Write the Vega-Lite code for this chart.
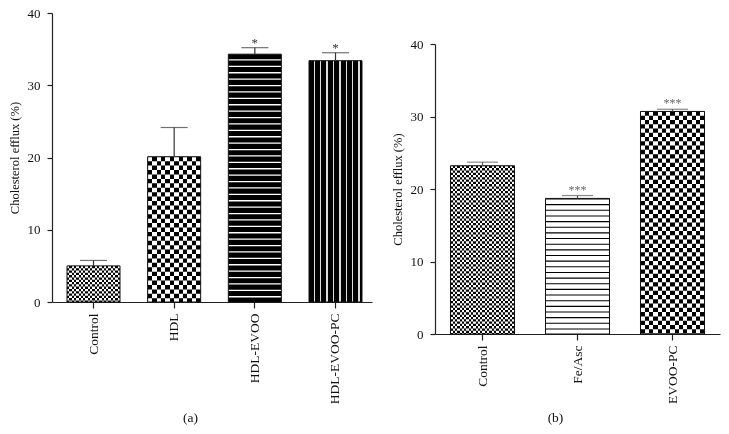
{
  "$schema": "https://vega.github.io/schema/vega-lite/v6.json",
  "background": "white",
  "padding": {"left": 8, "top": 7, "right": 5, "bottom": 5},
  "spacing": 19,
  "config": {
    "view": {"stroke": null},
    "font": "Liberation Serif",
    "axis": {"labelFont": "Liberation Serif", "titleFont": "Liberation Serif", "titleFontWeight": "normal", "domainColor": "#222", "tickColor": "#222", "labelColor": "#111", "titleColor": "#111", "grid": false, "domainWidth": 1.2, "tickWidth": 1.2}
  },
  "hconcat": [
    {
      "width": 320,
      "height": 289,
      "data": {"values": [
        {"cat": "Control", "value": 5.0, "errTop": 5.75, "sig": ""},
        {"cat": "HDL", "value": 20.1, "errTop": 24.15, "sig": ""},
        {"cat": "HDL-EVOO", "value": 34.3, "errTop": 35.2, "sig": "*"},
        {"cat": "HDL-EVOO-PC", "value": 33.4, "errTop": 34.5, "sig": "*"}
      ]},
      "encoding": {
        "x": {"field": "cat", "type": "nominal", "sort": null,
          "scale": {"paddingInner": 0.343, "paddingOuter": 0.155, "align": 0.6},
          "axis": {"title": "(a)", "titleX": 138, "titlePadding": 7, "titleFontSize": 13.5, "labelAngle": -90, "labelFontSize": 13.5, "tickSize": 6, "labelPadding": 5}},
        "y": {"field": "value", "type": "quantitative", "title": "Cholesterol efflux (%)",
          "scale": {"domain": [0, 40], "nice": false},
          "axis": {"title": "Cholesterol efflux (%)", "values": [0, 10, 20, 30, 40], "tickSize": 5, "labelPadding": 7, "labelFontSize": 13, "titleFontSize": 12.5, "titlePadding": 6}}
      },
      "layer": [
        {"mark": {"type": "bar", "fill": "#ffffff", "strokeWidth": 0}},
        {"transform": [{"filter": "datum.cat === 'Control'"}],
          "mark": {"type": "rule", "color": "#000", "strokeWidth": 53, "strokeDash": [2.3, 2.3]},
          "encoding": {"y2": {"datum": 0}}},
        {"transform": [{"filter": "datum.cat === 'Control'"}],
          "mark": {"type": "bar", "blend": "difference", "strokeWidth": 0, "fill": {"gradient": "linear", "x1": 0, "y1": 0, "x2": 1, "y2": 0, "stops": [
            {"offset": 0, "color": "#fff"}, {"offset": 0.0435, "color": "#fff"}, {"offset": 0.0435, "color": "rgba(255,255,255,0)"}, {"offset": 0.087, "color": "rgba(255,255,255,0)"},
            {"offset": 0.087, "color": "#fff"}, {"offset": 0.1304, "color": "#fff"}, {"offset": 0.1304, "color": "rgba(255,255,255,0)"}, {"offset": 0.1739, "color": "rgba(255,255,255,0)"},
            {"offset": 0.1739, "color": "#fff"}, {"offset": 0.2174, "color": "#fff"}, {"offset": 0.2174, "color": "rgba(255,255,255,0)"}, {"offset": 0.2609, "color": "rgba(255,255,255,0)"},
            {"offset": 0.2609, "color": "#fff"}, {"offset": 0.3043, "color": "#fff"}, {"offset": 0.3043, "color": "rgba(255,255,255,0)"}, {"offset": 0.3478, "color": "rgba(255,255,255,0)"},
            {"offset": 0.3478, "color": "#fff"}, {"offset": 0.3913, "color": "#fff"}, {"offset": 0.3913, "color": "rgba(255,255,255,0)"}, {"offset": 0.4348, "color": "rgba(255,255,255,0)"},
            {"offset": 0.4348, "color": "#fff"}, {"offset": 0.4783, "color": "#fff"}, {"offset": 0.4783, "color": "rgba(255,255,255,0)"}, {"offset": 0.5217, "color": "rgba(255,255,255,0)"},
            {"offset": 0.5217, "color": "#fff"}, {"offset": 0.5652, "color": "#fff"}, {"offset": 0.5652, "color": "rgba(255,255,255,0)"}, {"offset": 0.6087, "color": "rgba(255,255,255,0)"},
            {"offset": 0.6087, "color": "#fff"}, {"offset": 0.6522, "color": "#fff"}, {"offset": 0.6522, "color": "rgba(255,255,255,0)"}, {"offset": 0.6957, "color": "rgba(255,255,255,0)"},
            {"offset": 0.6957, "color": "#fff"}, {"offset": 0.7391, "color": "#fff"}, {"offset": 0.7391, "color": "rgba(255,255,255,0)"}, {"offset": 0.7826, "color": "rgba(255,255,255,0)"},
            {"offset": 0.7826, "color": "#fff"}, {"offset": 0.8261, "color": "#fff"}, {"offset": 0.8261, "color": "rgba(255,255,255,0)"}, {"offset": 0.8696, "color": "rgba(255,255,255,0)"},
            {"offset": 0.8696, "color": "#fff"}, {"offset": 0.913, "color": "#fff"}, {"offset": 0.913, "color": "rgba(255,255,255,0)"}, {"offset": 0.9565, "color": "rgba(255,255,255,0)"},
            {"offset": 0.9565, "color": "#fff"}, {"offset": 1, "color": "#fff"}
          ]}}},
        {"transform": [{"filter": "datum.cat === 'HDL'"}],
          "mark": {"type": "rule", "color": "#000", "strokeWidth": 53, "strokeDash": [4.42, 4.42]},
          "encoding": {"y2": {"datum": 0}}},
        {"transform": [{"filter": "datum.cat === 'HDL'"}],
          "mark": {"type": "bar", "blend": "difference", "strokeWidth": 0, "fill": {"gradient": "linear", "x1": 0, "y1": 0, "x2": 1, "y2": 0, "stops": [
            {"offset": 0, "color": "#fff"}, {"offset": 0.0833, "color": "#fff"}, {"offset": 0.0833, "color": "rgba(255,255,255,0)"}, {"offset": 0.1667, "color": "rgba(255,255,255,0)"},
            {"offset": 0.1667, "color": "#fff"}, {"offset": 0.25, "color": "#fff"}, {"offset": 0.25, "color": "rgba(255,255,255,0)"}, {"offset": 0.3333, "color": "rgba(255,255,255,0)"},
            {"offset": 0.3333, "color": "#fff"}, {"offset": 0.4167, "color": "#fff"}, {"offset": 0.4167, "color": "rgba(255,255,255,0)"}, {"offset": 0.5, "color": "rgba(255,255,255,0)"},
            {"offset": 0.5, "color": "#fff"}, {"offset": 0.5833, "color": "#fff"}, {"offset": 0.5833, "color": "rgba(255,255,255,0)"}, {"offset": 0.6667, "color": "rgba(255,255,255,0)"},
            {"offset": 0.6667, "color": "#fff"}, {"offset": 0.75, "color": "#fff"}, {"offset": 0.75, "color": "rgba(255,255,255,0)"}, {"offset": 0.8333, "color": "rgba(255,255,255,0)"},
            {"offset": 0.8333, "color": "#fff"}, {"offset": 0.9167, "color": "#fff"}, {"offset": 0.9167, "color": "rgba(255,255,255,0)"}, {"offset": 1, "color": "rgba(255,255,255,0)"}
          ]}}},
        {"transform": [{"filter": "datum.cat === 'HDL-EVOO'"}],
          "mark": {"type": "rule", "color": "#000", "strokeWidth": 53, "strokeDash": [5.1, 1.3]},
          "encoding": {"y2": {"datum": 0}}},
        {"transform": [{"filter": "datum.cat === 'HDL-EVOO-PC'"}],
          "mark": {"type": "bar", "strokeWidth": 0, "fill": {"gradient": "linear", "x1": 0, "y1": 0, "x2": 1, "y2": 0, "stops": [
            {"offset": 0, "color": "#000"}, {"offset": 0.09, "color": "#000"}, {"offset": 0.09, "color": "#dddddd"}, {"offset": 0.115, "color": "#dddddd"},
            {"offset": 0.115, "color": "#000"}, {"offset": 0.21, "color": "#000"}, {"offset": 0.21, "color": "#dddddd"}, {"offset": 0.235, "color": "#dddddd"},
            {"offset": 0.235, "color": "#000"}, {"offset": 0.33, "color": "#000"}, {"offset": 0.33, "color": "#dddddd"}, {"offset": 0.355, "color": "#dddddd"},
            {"offset": 0.355, "color": "#000"}, {"offset": 0.45, "color": "#000"}, {"offset": 0.45, "color": "#dddddd"}, {"offset": 0.475, "color": "#dddddd"},
            {"offset": 0.475, "color": "#000"}, {"offset": 0.57, "color": "#000"}, {"offset": 0.57, "color": "#dddddd"}, {"offset": 0.595, "color": "#dddddd"},
            {"offset": 0.595, "color": "#000"}, {"offset": 0.69, "color": "#000"}, {"offset": 0.69, "color": "#dddddd"}, {"offset": 0.715, "color": "#dddddd"},
            {"offset": 0.715, "color": "#000"}, {"offset": 0.81, "color": "#000"}, {"offset": 0.81, "color": "#dddddd"}, {"offset": 0.835, "color": "#dddddd"},
            {"offset": 0.835, "color": "#000"}, {"offset": 0.93, "color": "#000"}, {"offset": 0.93, "color": "#dddddd"}, {"offset": 0.955, "color": "#dddddd"},
            {"offset": 0.955, "color": "#000"}, {"offset": 1, "color": "#000"}
          ]}}},
        {"mark": {"type": "bar", "fill": "#fff", "fillOpacity": 0, "stroke": "#111", "strokeWidth": 1}},
        {"mark": {"type": "rule", "color": "#333", "strokeWidth": 1.2},
          "encoding": {"y2": {"field": "errTop"}}},
        {"mark": {"type": "tick", "color": "#333", "size": 27, "thickness": 1.2},
          "encoding": {"y": {"field": "errTop", "type": "quantitative", "title": "Cholesterol efflux (%)"}}},
        {"mark": {"type": "text", "fontSize": 13, "baseline": "alphabetic", "dy": -1, "color": "#333", "font": "Liberation Serif"},
          "encoding": {"y": {"field": "errTop", "type": "quantitative", "title": "Cholesterol efflux (%)"}, "text": {"field": "sig"}}}
      ]
    },
    {
      "width": 285,
      "height": 321,
      "data": {"values": [
        {"cat": "Control", "value": 23.2, "errTop": 23.7, "sig": ""},
        {"cat": "Fe/Asc", "value": 18.7, "errTop": 19.1, "sig": "***"},
        {"cat": "EVOO-PC", "value": 30.7, "errTop": 31.0, "sig": "***"}
      ]},
      "encoding": {
        "x": {"field": "cat", "type": "nominal", "sort": null,
          "scale": {"paddingInner": 0.326, "paddingOuter": 0.163, "align": 0.5},
          "axis": {"title": "(b)", "titleX": 120, "titlePadding": 7, "titleFontSize": 13.5, "labelAngle": -90, "labelFontSize": 13.5, "tickSize": 6, "labelPadding": 5}},
        "y": {"field": "value", "type": "quantitative", "title": "Cholesterol efflux (%)",
          "scale": {"domain": [0, 40], "nice": false, "range": [321, 31]},
          "axis": {"title": "Cholesterol efflux (%)", "values": [0, 10, 20, 30, 40], "tickSize": 5, "labelPadding": 7, "labelFontSize": 13, "titleFontSize": 12.5, "titlePadding": 6}}
      },
      "layer": [
        {"mark": {"type": "bar", "fill": "#ffffff", "strokeWidth": 0}},
        {"transform": [{"filter": "datum.cat === 'Control'"}],
          "mark": {"type": "rule", "color": "#000", "strokeWidth": 64, "strokeDash": [2.29, 2.29]},
          "encoding": {"y2": {"datum": 0}}},
        {"transform": [{"filter": "datum.cat === 'Control'"}],
          "mark": {"type": "bar", "blend": "difference", "strokeWidth": 0, "fill": {"gradient": "linear", "x1": 0, "y1": 0, "x2": 1, "y2": 0, "stops": [
            {"offset": 0, "color": "#fff"}, {"offset": 0.0357, "color": "#fff"}, {"offset": 0.0357, "color": "rgba(255,255,255,0)"}, {"offset": 0.0714, "color": "rgba(255,255,255,0)"},
            {"offset": 0.0714, "color": "#fff"}, {"offset": 0.1071, "color": "#fff"}, {"offset": 0.1071, "color": "rgba(255,255,255,0)"}, {"offset": 0.1429, "color": "rgba(255,255,255,0)"},
            {"offset": 0.1429, "color": "#fff"}, {"offset": 0.1786, "color": "#fff"}, {"offset": 0.1786, "color": "rgba(255,255,255,0)"}, {"offset": 0.2143, "color": "rgba(255,255,255,0)"},
            {"offset": 0.2143, "color": "#fff"}, {"offset": 0.25, "color": "#fff"}, {"offset": 0.25, "color": "rgba(255,255,255,0)"}, {"offset": 0.2857, "color": "rgba(255,255,255,0)"},
            {"offset": 0.2857, "color": "#fff"}, {"offset": 0.3214, "color": "#fff"}, {"offset": 0.3214, "color": "rgba(255,255,255,0)"}, {"offset": 0.3571, "color": "rgba(255,255,255,0)"},
            {"offset": 0.3571, "color": "#fff"}, {"offset": 0.3929, "color": "#fff"}, {"offset": 0.3929, "color": "rgba(255,255,255,0)"}, {"offset": 0.4286, "color": "rgba(255,255,255,0)"},
            {"offset": 0.4286, "color": "#fff"}, {"offset": 0.4643, "color": "#fff"}, {"offset": 0.4643, "color": "rgba(255,255,255,0)"}, {"offset": 0.5, "color": "rgba(255,255,255,0)"},
            {"offset": 0.5, "color": "#fff"}, {"offset": 0.5357, "color": "#fff"}, {"offset": 0.5357, "color": "rgba(255,255,255,0)"}, {"offset": 0.5714, "color": "rgba(255,255,255,0)"},
            {"offset": 0.5714, "color": "#fff"}, {"offset": 0.6071, "color": "#fff"}, {"offset": 0.6071, "color": "rgba(255,255,255,0)"}, {"offset": 0.6429, "color": "rgba(255,255,255,0)"},
            {"offset": 0.6429, "color": "#fff"}, {"offset": 0.6786, "color": "#fff"}, {"offset": 0.6786, "color": "rgba(255,255,255,0)"}, {"offset": 0.7143, "color": "rgba(255,255,255,0)"},
            {"offset": 0.7143, "color": "#fff"}, {"offset": 0.75, "color": "#fff"}, {"offset": 0.75, "color": "rgba(255,255,255,0)"}, {"offset": 0.7857, "color": "rgba(255,255,255,0)"},
            {"offset": 0.7857, "color": "#fff"}, {"offset": 0.8214, "color": "#fff"}, {"offset": 0.8214, "color": "rgba(255,255,255,0)"}, {"offset": 0.8571, "color": "rgba(255,255,255,0)"},
            {"offset": 0.8571, "color": "#fff"}, {"offset": 0.8929, "color": "#fff"}, {"offset": 0.8929, "color": "rgba(255,255,255,0)"}, {"offset": 0.9286, "color": "rgba(255,255,255,0)"},
            {"offset": 0.9286, "color": "#fff"}, {"offset": 0.9643, "color": "#fff"}, {"offset": 0.9643, "color": "rgba(255,255,255,0)"}, {"offset": 1, "color": "rgba(255,255,255,0)"}
          ]}}},
        {"transform": [{"filter": "datum.cat === 'Fe/Asc'"}],
          "mark": {"type": "rule", "color": "#000", "strokeWidth": 64, "strokeDash": [1.1, 4.55]},
          "encoding": {"y2": {"datum": 0}}},
        {"transform": [{"filter": "datum.cat === 'EVOO-PC'"}],
          "mark": {"type": "rule", "color": "#000", "strokeWidth": 64, "strokeDash": [4.27, 4.27]},
          "encoding": {"y2": {"datum": 0}}},
        {"transform": [{"filter": "datum.cat === 'EVOO-PC'"}],
          "mark": {"type": "bar", "blend": "difference", "strokeWidth": 0, "fill": {"gradient": "linear", "x1": 0, "y1": 0, "x2": 1, "y2": 0, "stops": [
            {"offset": 0, "color": "#fff"}, {"offset": 0.0667, "color": "#fff"}, {"offset": 0.0667, "color": "rgba(255,255,255,0)"}, {"offset": 0.1333, "color": "rgba(255,255,255,0)"},
            {"offset": 0.1333, "color": "#fff"}, {"offset": 0.2, "color": "#fff"}, {"offset": 0.2, "color": "rgba(255,255,255,0)"}, {"offset": 0.2667, "color": "rgba(255,255,255,0)"},
            {"offset": 0.2667, "color": "#fff"}, {"offset": 0.3333, "color": "#fff"}, {"offset": 0.3333, "color": "rgba(255,255,255,0)"}, {"offset": 0.4, "color": "rgba(255,255,255,0)"},
            {"offset": 0.4, "color": "#fff"}, {"offset": 0.4667, "color": "#fff"}, {"offset": 0.4667, "color": "rgba(255,255,255,0)"}, {"offset": 0.5333, "color": "rgba(255,255,255,0)"},
            {"offset": 0.5333, "color": "#fff"}, {"offset": 0.6, "color": "#fff"}, {"offset": 0.6, "color": "rgba(255,255,255,0)"}, {"offset": 0.6667, "color": "rgba(255,255,255,0)"},
            {"offset": 0.6667, "color": "#fff"}, {"offset": 0.7333, "color": "#fff"}, {"offset": 0.7333, "color": "rgba(255,255,255,0)"}, {"offset": 0.8, "color": "rgba(255,255,255,0)"},
            {"offset": 0.8, "color": "#fff"}, {"offset": 0.8667, "color": "#fff"}, {"offset": 0.8667, "color": "rgba(255,255,255,0)"}, {"offset": 0.9333, "color": "rgba(255,255,255,0)"},
            {"offset": 0.9333, "color": "#fff"}, {"offset": 1, "color": "#fff"}
          ]}}},
        {"mark": {"type": "bar", "fill": "#fff", "fillOpacity": 0, "stroke": "#111", "strokeWidth": 1}},
        {"mark": {"type": "rule", "color": "#555", "strokeWidth": 1.2},
          "encoding": {"y2": {"field": "errTop"}}},
        {"mark": {"type": "tick", "color": "#555", "size": 31, "thickness": 1.2},
          "encoding": {"y": {"field": "errTop", "type": "quantitative", "title": "Cholesterol efflux (%)"}}},
        {"mark": {"type": "text", "fontSize": 12, "baseline": "alphabetic", "dy": -2, "color": "#666", "font": "Liberation Serif"},
          "encoding": {"y": {"field": "errTop", "type": "quantitative", "title": "Cholesterol efflux (%)"}, "text": {"field": "sig"}}}
      ]
    }
  ]
}
